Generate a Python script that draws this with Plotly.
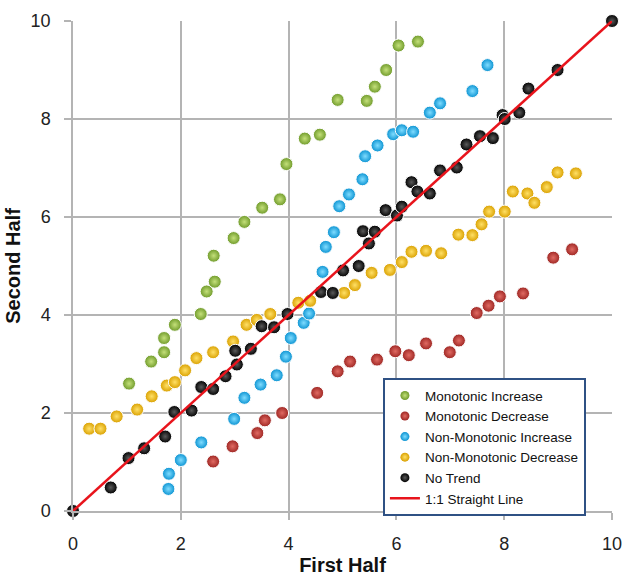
import plotly.graph_objects as go

# ---- data ----
mono_inc_x = [1.04, 1.45, 1.69, 1.69, 1.89, 2.37, 2.48, 2.63, 2.61, 2.98, 3.18, 3.51, 3.84, 3.96, 4.30, 4.58, 4.91, 5.45, 5.60, 5.81, 6.04, 6.40]
mono_inc_y = [2.60, 3.05, 3.24, 3.53, 3.80, 4.02, 4.48, 4.68, 5.21, 5.57, 5.90, 6.19, 6.36, 7.08, 7.60, 7.68, 8.39, 8.37, 8.66, 9.00, 9.50, 9.58]

mono_dec_x = [2.60, 2.96, 3.42, 3.56, 3.88, 4.53, 4.91, 5.14, 5.64, 5.98, 6.23, 6.55, 6.99, 7.16, 7.49, 7.71, 7.92, 8.35, 8.91, 9.26]
mono_dec_y = [1.01, 1.32, 1.59, 1.85, 2.00, 2.41, 2.85, 3.05, 3.09, 3.26, 3.18, 3.42, 3.24, 3.48, 4.04, 4.19, 4.38, 4.44, 5.17, 5.34]

nonmono_inc_x = [1.77, 1.78, 2.00, 2.38, 2.99, 3.18, 3.48, 3.78, 3.95, 4.04, 4.28, 4.38, 4.63, 4.69, 4.84, 4.94, 5.12, 5.37, 5.42, 5.65, 5.94, 6.10, 6.31, 6.62, 6.81, 7.41, 7.69]
nonmono_inc_y = [0.45, 0.76, 1.04, 1.40, 1.88, 2.31, 2.58, 2.77, 3.15, 3.53, 3.84, 4.03, 4.88, 5.39, 5.69, 6.22, 6.46, 6.77, 7.24, 7.46, 7.69, 7.77, 7.74, 8.13, 8.32, 8.57, 9.10]

nonmono_dec_x = [0.30, 0.51, 0.81, 1.19, 1.46, 1.74, 1.89, 2.08, 2.29, 2.60, 2.97, 3.22, 3.41, 3.66, 4.18, 4.40, 5.03, 5.23, 5.54, 5.88, 6.10, 6.28, 6.55, 6.83, 7.15, 7.41, 7.58, 7.72, 8.01, 8.16, 8.43, 8.56, 8.79, 8.99, 9.33]
nonmono_dec_y = [1.68, 1.68, 1.93, 2.07, 2.34, 2.56, 2.63, 2.87, 3.12, 3.24, 3.46, 3.80, 3.90, 4.02, 4.25, 4.29, 4.45, 4.61, 4.86, 4.92, 5.08, 5.29, 5.31, 5.26, 5.64, 5.63, 5.85, 6.11, 6.11, 6.52, 6.48, 6.29, 6.61, 6.91, 6.89]

no_trend_x = [0, 0.70, 1.03, 1.32, 1.71, 1.88, 2.20, 2.38, 2.60, 2.83, 3.04, 3.01, 3.30, 3.50, 3.73, 3.98, 4.60, 4.82, 5.01, 5.30, 5.38, 5.60, 5.49, 5.80, 6.01, 6.10, 6.28, 6.39, 6.62, 6.81, 7.12, 7.30, 7.55, 7.79, 7.97, 8.01, 8.28, 8.45, 8.99, 10]
no_trend_y = [0, 0.48, 1.08, 1.28, 1.52, 2.02, 2.05, 2.53, 2.49, 2.75, 2.99, 3.27, 3.31, 3.77, 3.75, 4.02, 4.47, 4.45, 4.91, 5.00, 5.71, 5.70, 5.46, 6.14, 6.03, 6.21, 6.71, 6.52, 6.48, 6.95, 7.01, 7.48, 7.65, 7.61, 8.08, 8.00, 8.13, 8.62, 9.00, 10]

line_x = [0, 10]
line_y = [0, 10]

tick_vals = [0, 2, 4, 6, 8, 10]

series = [
    ("Monotonic Increase", mono_inc_x, mono_inc_y, "#6f9a2a", "#c4e07a"),
    ("Monotonic Decrease", mono_dec_x, mono_dec_y, "#9e2623", "#e06a62"),
    ("Non-Monotonic Increase", nonmono_inc_x, nonmono_inc_y, "#0b93d2", "#7fdcff"),
    ("Non-Monotonic Decrease", nonmono_dec_x, nonmono_dec_y, "#d9a000", "#ffe066"),
    ("No Trend", no_trend_x, no_trend_y, "#000000", "#5a5a5a"),
]

fig = go.Figure()
for name, xs, ys, edge, center in series:
    fig.add_trace(go.Scatter(
        x=xs, y=ys, mode="markers", name=name, showlegend=False,
        cliponaxis=False,
        marker=dict(size=13, color=edge,
                    gradient=dict(type="radial", color=center),
                    line=dict(width=1, color="white")),
    ))

fig.add_trace(go.Scatter(
    x=line_x, y=line_y, mode="lines", name="1:1 Straight Line", showlegend=False,
    line=dict(color="#e8141c", width=2.5), cliponaxis=False,
))

# legend-only entries (smaller symbols, as in the reference)
for name, xs, ys, edge, center in series:
    fig.add_trace(go.Scatter(
        x=[None], y=[None], mode="markers", name=name,
        marker=dict(size=9, color=edge, gradient=dict(type="radial", color=center)),
    ))
fig.add_trace(go.Scatter(x=[None], y=[None], mode="lines", name="1:1 Straight Line",
                         line=dict(color="#e8141c", width=2.5)))

axis_common = dict(
    range=[0, 10], tickvals=tick_vals, showgrid=True, gridcolor="#b4b4b4", gridwidth=1.5,
    zeroline=False, showline=True, linecolor="#b4b4b4", linewidth=1.5,
    ticks="outside", ticklen=7, tickcolor="#b4b4b4", tickwidth=1.5,
    tickfont=dict(family="Liberation Sans, Arial, sans-serif", size=18, color="#222222"),
    mirror=False, automargin=False,
)

fig.update_layout(
    width=625, height=576,
    margin=dict(l=73, r=13, t=21, b=65),
    paper_bgcolor="white", plot_bgcolor="white",
    font=dict(family="Liberation Sans, Arial, sans-serif", color="#111111"),
    xaxis=dict(**axis_common,
               title=dict(text="<b>First Half</b>", font=dict(size=20, color="#111111"), standoff=10),
               ticklabelstandoff=9),
    yaxis=dict(**axis_common,
               title=dict(text="<b>Second Half</b>", font=dict(size=20, color="#111111"), standoff=5),
               ticklabelstandoff=10),
    legend=dict(x=0.575, y=0.271, xanchor="left", yanchor="top",
                bgcolor="white", bordercolor="#2f5184", borderwidth=2,
                font=dict(size=13.5, color="#111111"), tracegroupgap=0,
                itemwidth=30),
    showlegend=True,
)

fig.write_html("out.html")
